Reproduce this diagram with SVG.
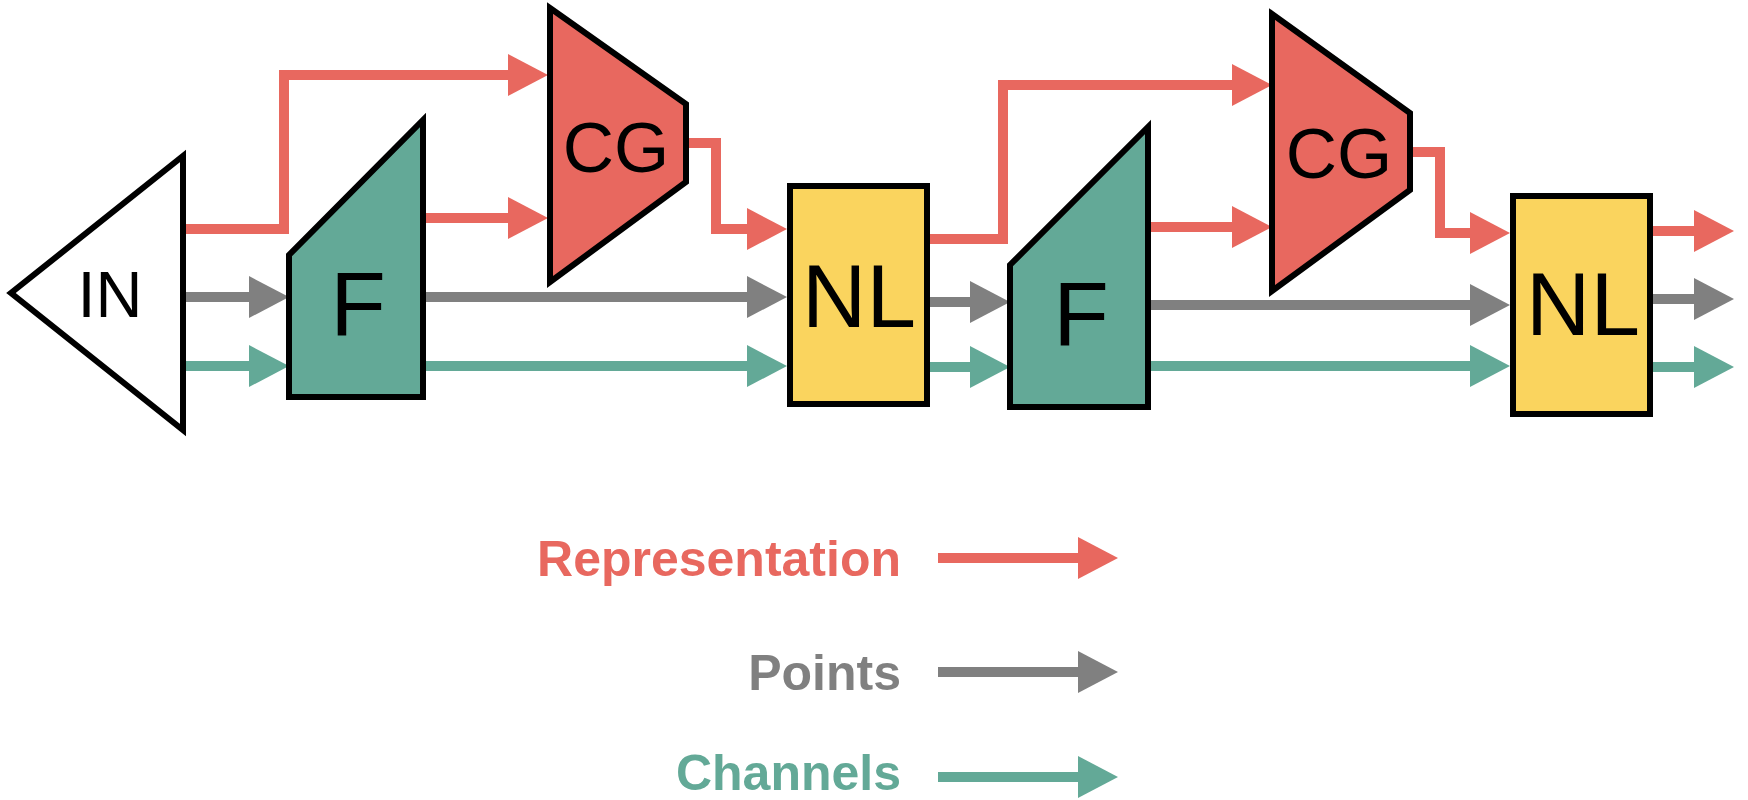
<svg xmlns="http://www.w3.org/2000/svg" width="1748" height="800" viewBox="0 0 1748 800">
<style>
.node{stroke:#000;stroke-width:6;stroke-linejoin:miter}
.lbl{font-family:"Liberation Sans",Arial,sans-serif;fill:#000;text-anchor:middle}
.c{fill:none;stroke-width:10;stroke-linejoin:miter}
.r{stroke:#E8685F}
.g{stroke:#808080}
.t{stroke:#63A997}
.leg{font-family:"Liberation Sans",Arial,sans-serif;font-weight:bold;font-size:50px;text-anchor:end}
</style>
<defs>
<marker id="hr" viewBox="0 0 40 42" refX="2" refY="21" markerWidth="40" markerHeight="42" markerUnits="userSpaceOnUse" orient="auto"><path d="M0,0 L40,21 L0,42 Z" fill="#E8685F"/></marker>
<marker id="hg" viewBox="0 0 40 42" refX="2" refY="21" markerWidth="40" markerHeight="42" markerUnits="userSpaceOnUse" orient="auto"><path d="M0,0 L40,21 L0,42 Z" fill="#808080"/></marker>
<marker id="ht" viewBox="0 0 40 42" refX="2" refY="21" markerWidth="40" markerHeight="42" markerUnits="userSpaceOnUse" orient="auto"><path d="M0,0 L40,21 L0,42 Z" fill="#63A997"/></marker>
</defs>
<rect width="1748" height="800" fill="#fff"/>
<g id="connectors">
<path class="c r" marker-end="url(#hr)" d="M183,229 H284 V75 H510"/>
<path class="c r" marker-end="url(#hr)" d="M423,218 H510"/>
<path class="c r" marker-end="url(#hr)" d="M686,143 H716 V229 H749"/>
<path class="c r" marker-end="url(#hr)" d="M930,239 H1003 V85 H1234"/>
<path class="c r" marker-end="url(#hr)" d="M1148,227 H1234"/>
<path class="c r" marker-end="url(#hr)" d="M1410,152 H1440 V233 H1472"/>
<path class="c r" marker-end="url(#hr)" d="M1653,231 H1696"/>
<path class="c g" marker-end="url(#hg)" d="M183,297 H251"/>
<path class="c g" marker-end="url(#hg)" d="M423,297 H749"/>
<path class="c g" marker-end="url(#hg)" d="M930,302 H972"/>
<path class="c g" marker-end="url(#hg)" d="M1148,305 H1472"/>
<path class="c g" marker-end="url(#hg)" d="M1653,299 H1696"/>
<path class="c t" marker-end="url(#ht)" d="M183,366 H251"/>
<path class="c t" marker-end="url(#ht)" d="M423,366 H749"/>
<path class="c t" marker-end="url(#ht)" d="M930,367 H972"/>
<path class="c t" marker-end="url(#ht)" d="M1148,366 H1472"/>
<path class="c t" marker-end="url(#ht)" d="M1653,367 H1696"/>
</g>
<g id="in">
<polygon class="node" fill="#fff" points="183,156 183,430 11,293"/>
<text class="lbl" x="110" y="317" font-size="65">IN</text>
</g>
<g id="f1">
<polygon class="node" fill="#63A997" points="289,397 289,255 423,120 423,397"/>
<text class="lbl" x="358" y="335" font-size="91">F</text>
</g>
<g id="cg1">
<polygon class="node" fill="#E8685F" points="550,8 686,104 686,182 550,282"/>
<text class="lbl" x="616" y="172" font-size="71">CG</text>
</g>
<g id="nl1">
<rect class="node" fill="#FAD45E" x="790" y="186" width="137" height="218"/>
<text class="lbl" x="859" y="327" font-size="89">NL</text>
</g>
<g id="f2">
<polygon class="node" fill="#63A997" points="1010,407 1010,265 1148,127 1148,407"/>
<text class="lbl" x="1081" y="345" font-size="91">F</text>
</g>
<g id="cg2">
<polygon class="node" fill="#E8685F" points="1272,14 1410,113 1410,190 1272,291"/>
<text class="lbl" x="1339" y="178" font-size="71">CG</text>
</g>
<g id="nl2">
<rect class="node" fill="#FAD45E" x="1513" y="196" width="137" height="218"/>
<text class="lbl" x="1583" y="335" font-size="89">NL</text>
</g>
<g id="legend">
<text class="leg" x="901" y="576" fill="#E8685F">Representation</text>
<path class="c r" marker-end="url(#hr)" d="M938,558 H1080"/>
<text class="leg" x="901" y="690" fill="#808080">Points</text>
<path class="c g" marker-end="url(#hg)" d="M938,672 H1080"/>
<text class="leg" x="901" y="790" fill="#63A997">Channels</text>
<path class="c t" marker-end="url(#ht)" d="M938,777 H1080"/>
</g>
</svg>
